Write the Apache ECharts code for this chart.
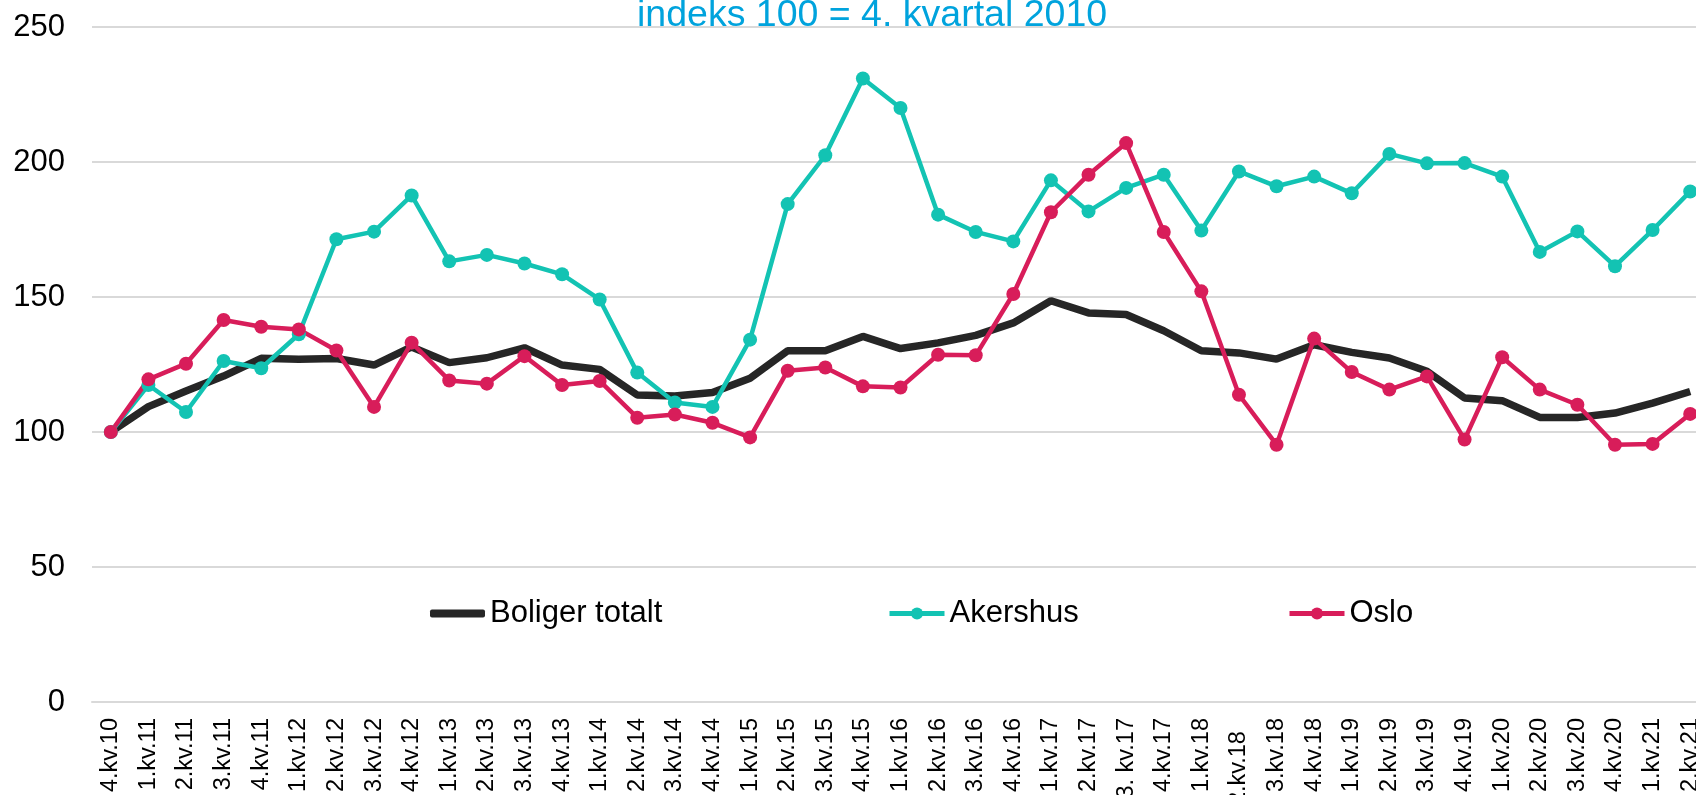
<!DOCTYPE html>
<html>
<head>
<meta charset="utf-8">
<script src="https://cdn.jsdelivr.net/npm/echarts@6/dist/echarts.min.js"></script>
<style>
  html, body { margin: 0; padding: 0; background: #fff; }
  #chart { width: 1696px; height: 795px; }
</style>
</head>
<body>
<div id="chart"></div>
<script>
// kvartaler
var kvartaler = ['4.kv.10',
    '1.kv.11', '2.kv.11', '3.kv.11', '4.kv.11',
    '1.kv.12', '2.kv.12', '3.kv.12', '4.kv.12',
    '1.kv.13', '2.kv.13', '3.kv.13', '4.kv.13',
    '1.kv.14', '2.kv.14', '3.kv.14', '4.kv.14',
    '1.kv.15', '2.kv.15', '3.kv.15', '4.kv.15',
    '1.kv.16', '2.kv.16', '3.kv.16', '4.kv.16',
    '1.kv.17', '2.kv.17', '3. kv.17', '4.kv.17',
    '1.kv.18', '2.kv.18  ', '3.kv.18', '4.kv.18',
    '1.kv.19', '2.kv.19', '3.kv.19', '4.kv.19',
    '1.kv.20', '2.kv.20', '3.kv.20', '4.kv.20',
    '1.kv.21', '2.kv.21'];

var boligerTotalt = [100,
    109.4, 115.2, 120.7, 127.3,
    126.9, 127.2, 124.8, 131.5,
    125.7, 127.5, 131.2, 124.8,
    123.2, 113.7, 113.3, 114.6,
    119.9, 130.1, 130.1, 135.4,
    130.9, 133.0, 135.8, 140.4,
    148.6, 144.1, 143.5, 137.5,
    130.1, 129.3, 127.0, 132.3,
    129.5, 127.4, 122.5, 112.6,
    111.6, 105.4, 105.4, 107.0,
    110.7, 115.0];

var akershus = [100,
    117.4, 107.4, 126.3, 123.6,
    136.2, 171.4, 174.2, 187.6,
    163.2, 165.6, 162.4, 158.4,
    149.1, 122.0, 110.9, 109.3,
    134.2, 184.4, 202.5, 230.9,
    220.0, 180.5, 174.1, 170.6,
    193.2, 181.7, 190.4, 195.3,
    174.6, 196.5, 191.0, 194.6,
    188.4, 203.0, 199.5, 199.6,
    194.6, 166.7, 174.3, 161.4,
    174.8, 189.1];

var oslo = [100,
    119.5, 125.3, 141.5, 139.0,
    138.0, 130.2, 109.3, 133.1,
    119.1, 117.9, 128.1, 117.4,
    118.9, 105.3, 106.5, 103.4,
    98.0, 122.7, 123.9, 116.9,
    116.5, 128.6, 128.4, 151.1,
    181.4, 195.3, 207.0, 174.1,
    152.1, 113.8, 95.3, 134.6,
    122.2, 115.7, 120.6, 97.2,
    127.7, 115.7, 110.1, 95.3,
    95.6, 106.7];

var yTicks = [0, 50, 100, 150, 200, 250];

var fontFamily = '"Liberation Sans", Arial, sans-serif';
var colors = ['#262626', '#13c3b3', '#d81d5a'];

// en legend per serie, så plasseringen blir lik originalen
function legend(name, left, icon, h, lw) {
    var l = {
        data: [{ name: name, icon: icon }],
        left: left,
        top: 598,
        padding: 0,
        itemWidth: 55,
        itemHeight: h,
        textStyle: { fontSize: 31, color: '#000', fontFamily: fontFamily }
    };
    if (lw) l.lineStyle = { width: lw };
    return l;
}

var option = {
    backgroundColor: '#fff',
    animation: false,
    color: colors,
    title: {
        text: 'indeks 100 = 4. kvartal 2010',
        left: 637,
        top: -3,
        padding: 0,
        textStyle: {
            color: '#00a3dd',
            fontSize: 37.5,
            fontWeight: 'normal',
            fontFamily: fontFamily
        }
    },
    legend: [
        legend('Boliger totalt', 430, 'roundRect', 8),
        legend('Akershus', 887, undefined, 15, 5),
        legend('Oslo', 1287, undefined, 15, 5)
    ],
    grid: {
        left: 92,
        right: -13,
        top: 27,
        bottom: 93,
        outerBoundsMode: 'none'
    },
    xAxis: {
        type: 'category',
        data: kvartaler,
        boundaryGap: true,
        axisLine: { lineStyle: { color: '#d9d9d9', width: 2 } },
        axisTick: { show: false },
        axisLabel: {
            interval: 0,
            rotate: 90,
            margin: 16,
            fontSize: 23.5,
            color: '#000',
            fontFamily: fontFamily
        }
    },
    yAxis: {
        type: 'value',
        min: yTicks[0],
        max: yTicks[yTicks.length - 1],
        interval: 50,
        axisLine: { show: false },
        axisTick: { show: false },
        splitLine: { lineStyle: { color: '#d9d9d9', width: 2 } },
        axisLabel: {
            margin: 27,
            fontSize: 31,
            color: '#000',
            fontFamily: fontFamily
        }
    },
    series: [{
        name: 'Boliger totalt',
        type: 'line',
        data: boligerTotalt,
        symbol: 'none',
        lineStyle: { width: 7.5, color: colors[0] }
    }, {
        name: 'Akershus',
        type: 'line',
        data: akershus,
        symbol: 'circle',
        symbolSize: 14,
        lineStyle: { width: 4.5, color: colors[1] },
        itemStyle: { color: colors[1] }
    }, {
        name: 'Oslo',
        type: 'line',
        data: oslo,
        symbol: 'circle',
        symbolSize: 14,
        lineStyle: { width: 4.5, color: colors[2] },
        itemStyle: { color: colors[2] }
    }]
};

var chart = echarts.init(document.getElementById('chart'));
chart.setOption(option);
</script>
</body>
</html>
